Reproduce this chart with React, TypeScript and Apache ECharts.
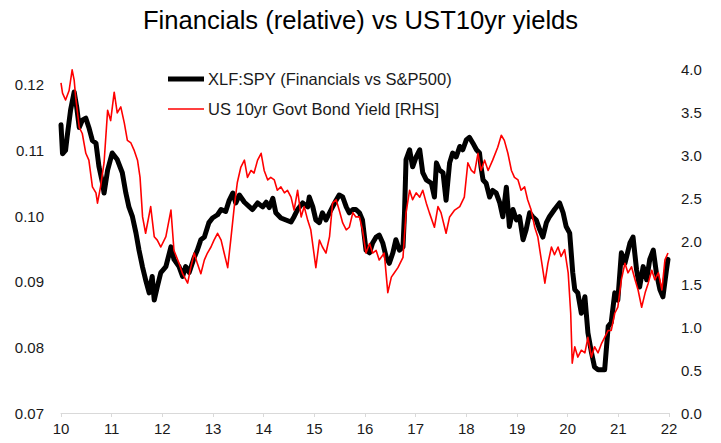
import React, { useEffect, useRef } from "react";
import * as echarts from "echarts";

const TITLE = "Financials (relative) vs UST10yr yields";
const LEGEND_XLF = "XLF:SPY (Financials vs S&P500)";
const LEGEND_UST = "US 10yr Govt Bond Yield [RHS]";

const X_MIN = 10;
const X_MAX = 22;
const LEFT_MIN = 0.07;
const LEFT_MAX = 0.1224;
const RIGHT_MIN = 0;
const RIGHT_MAX = 4;

// [year (20xx), XLF:SPY ratio]
const xlfSpy: [number, number][] = [
  [10.0, 0.1139], [10.03, 0.1095], [10.09, 0.11], [10.12, 0.112], [10.19, 0.1162], [10.26, 0.1189],
  [10.31, 0.1166], [10.36, 0.1135], [10.42, 0.1146], [10.49, 0.1149], [10.55, 0.1135], [10.62, 0.1115],
  [10.69, 0.1111], [10.75, 0.1075], [10.82, 0.105], [10.85, 0.1035], [10.92, 0.107], [11.01, 0.1096],
  [11.11, 0.1086], [11.21, 0.1066], [11.28, 0.1035], [11.34, 0.1014], [11.41, 0.0999], [11.48, 0.0974],
  [11.54, 0.0948], [11.61, 0.0922], [11.67, 0.0903], [11.74, 0.0883], [11.8, 0.0908], [11.84, 0.0872],
  [11.9, 0.0892], [11.97, 0.0914], [12.07, 0.0923], [12.17, 0.0953], [12.23, 0.0934], [12.33, 0.0923],
  [12.4, 0.0908], [12.46, 0.0923], [12.53, 0.0914], [12.63, 0.0937], [12.69, 0.0948], [12.76, 0.0964],
  [12.83, 0.0968], [12.92, 0.099], [12.99, 0.0997], [13.09, 0.1002], [13.16, 0.101], [13.25, 0.1007],
  [13.32, 0.1024], [13.39, 0.1035], [13.45, 0.102], [13.52, 0.1032], [13.62, 0.1021], [13.72, 0.1014],
  [13.78, 0.101], [13.88, 0.102], [13.98, 0.1014], [14.05, 0.1021], [14.11, 0.1013], [14.18, 0.1027],
  [14.24, 0.1005], [14.34, 0.0997], [14.44, 0.0994], [14.54, 0.0991], [14.6, 0.0999], [14.67, 0.101],
  [14.77, 0.102], [14.87, 0.1014], [14.9, 0.1029], [14.97, 0.1014], [15.03, 0.0994], [15.1, 0.099],
  [15.16, 0.1005], [15.23, 0.0994], [15.3, 0.1005], [15.36, 0.1014], [15.43, 0.1024], [15.49, 0.1032],
  [15.56, 0.1029], [15.63, 0.1014], [15.69, 0.1005], [15.76, 0.101], [15.82, 0.101], [15.89, 0.1005],
  [15.95, 0.0994], [16.02, 0.0948], [16.09, 0.0944], [16.15, 0.0959], [16.22, 0.0968], [16.28, 0.0971],
  [16.35, 0.0959], [16.42, 0.0937], [16.48, 0.0928], [16.55, 0.0944], [16.61, 0.0964], [16.68, 0.0948],
  [16.75, 0.0953], [16.78, 0.1005], [16.81, 0.1086], [16.88, 0.1101], [16.94, 0.1075], [17.01, 0.109],
  [17.08, 0.1101], [17.14, 0.1066], [17.21, 0.1055], [17.31, 0.105], [17.37, 0.1029], [17.41, 0.1081],
  [17.47, 0.107], [17.54, 0.1066], [17.6, 0.1024], [17.67, 0.1081], [17.73, 0.1096], [17.8, 0.109],
  [17.87, 0.1106], [17.93, 0.1101], [18.0, 0.1116], [18.06, 0.112], [18.13, 0.1111], [18.2, 0.1101],
  [18.26, 0.1096], [18.29, 0.1075], [18.33, 0.1055], [18.39, 0.105], [18.46, 0.1029], [18.52, 0.1039],
  [18.59, 0.1035], [18.66, 0.102], [18.72, 0.0999], [18.79, 0.1044], [18.85, 0.0984], [18.92, 0.101],
  [18.99, 0.0994], [19.05, 0.0999], [19.12, 0.0964], [19.18, 0.0979], [19.25, 0.1005], [19.31, 0.0999],
  [19.38, 0.0994], [19.45, 0.0979], [19.51, 0.0968], [19.58, 0.099], [19.64, 0.0999], [19.74, 0.101],
  [19.84, 0.102], [19.91, 0.1005], [19.97, 0.0984], [20.04, 0.0974], [20.1, 0.0914], [20.14, 0.0888],
  [20.2, 0.0883], [20.27, 0.0852], [20.34, 0.0877], [20.4, 0.0822], [20.47, 0.0792], [20.53, 0.077],
  [20.6, 0.0766], [20.67, 0.0766], [20.73, 0.0766], [20.8, 0.0832], [20.86, 0.0838], [20.93, 0.0883],
  [20.99, 0.0872], [21.06, 0.0944], [21.13, 0.0928], [21.23, 0.0959], [21.29, 0.0968], [21.36, 0.0918],
  [21.42, 0.0892], [21.49, 0.0923], [21.56, 0.0903], [21.62, 0.0934], [21.69, 0.0948], [21.75, 0.0914],
  [21.82, 0.0888], [21.88, 0.0877], [21.95, 0.0918], [21.98, 0.0934],
];

// [year (20xx), US 10yr yield %]
const ust10y: [number, number][] = [
  [10.0, 3.84], [10.03, 3.72], [10.09, 3.64], [10.16, 3.75], [10.22, 3.99], [10.26, 3.87], [10.29, 3.67],
  [10.36, 3.32], [10.42, 3.25], [10.49, 3.02], [10.55, 2.94], [10.62, 2.63], [10.69, 2.56], [10.72, 2.44],
  [10.78, 2.63], [10.85, 2.91], [10.92, 3.52], [10.98, 3.4], [11.05, 3.73], [11.11, 3.49], [11.18, 3.56],
  [11.25, 3.37], [11.31, 3.17], [11.38, 3.14], [11.44, 3.06], [11.51, 2.94], [11.56, 2.74], [11.61, 2.28],
  [11.67, 2.09], [11.77, 2.4], [11.84, 2.05], [11.9, 2.01], [11.97, 1.93], [12.07, 2.05], [12.17, 2.36],
  [12.23, 1.89], [12.33, 1.74], [12.4, 1.62], [12.5, 1.51], [12.56, 1.69], [12.63, 1.86], [12.69, 1.74],
  [12.76, 1.62], [12.83, 1.78], [12.89, 1.86], [12.96, 1.93], [13.02, 2.01], [13.09, 2.09], [13.16, 2.01],
  [13.22, 1.86], [13.29, 1.69], [13.35, 2.01], [13.42, 2.4], [13.48, 2.68], [13.55, 2.86], [13.62, 2.94],
  [13.68, 2.74], [13.75, 2.82], [13.81, 2.79], [13.88, 2.94], [13.95, 3.02], [14.01, 2.82], [14.08, 2.71],
  [14.14, 2.74], [14.21, 2.71], [14.27, 2.59], [14.34, 2.63], [14.41, 2.56], [14.47, 2.59], [14.54, 2.51],
  [14.6, 2.36], [14.67, 2.59], [14.74, 2.28], [14.8, 2.4], [14.87, 2.24], [14.93, 2.13], [15.03, 1.69],
  [15.1, 2.01], [15.16, 1.93], [15.23, 1.86], [15.3, 2.05], [15.36, 2.44], [15.43, 2.48], [15.49, 2.36],
  [15.56, 2.21], [15.63, 2.13], [15.69, 2.16], [15.76, 2.33], [15.82, 2.28], [15.89, 2.28], [15.95, 2.13],
  [16.02, 1.86], [16.09, 1.97], [16.15, 1.86], [16.22, 1.89], [16.28, 1.78], [16.38, 1.86], [16.45, 1.4],
  [16.52, 1.58], [16.58, 1.63], [16.65, 1.69], [16.75, 1.81], [16.81, 2.33], [16.88, 2.59], [16.94, 2.48],
  [17.01, 2.56], [17.08, 2.51], [17.14, 2.59], [17.21, 2.44], [17.27, 2.33], [17.37, 2.16], [17.44, 2.4],
  [17.5, 2.33], [17.6, 2.09], [17.67, 2.28], [17.77, 2.36], [17.87, 2.4], [17.96, 2.51], [18.03, 2.91],
  [18.1, 2.82], [18.16, 2.79], [18.23, 3.02], [18.29, 2.82], [18.36, 2.94], [18.43, 2.82], [18.52, 2.94],
  [18.62, 3.09], [18.69, 3.23], [18.75, 3.17], [18.82, 3.02], [18.89, 2.82], [18.95, 2.74], [19.02, 2.71],
  [19.08, 2.59], [19.15, 2.63], [19.21, 2.48], [19.28, 2.36], [19.35, 2.16], [19.41, 2.05], [19.48, 1.78],
  [19.55, 1.51], [19.61, 1.74], [19.68, 1.93], [19.74, 1.84], [19.81, 1.93], [19.87, 1.82], [19.94, 1.9],
  [20.01, 1.63], [20.06, 1.16], [20.09, 0.58], [20.14, 0.77], [20.2, 0.65], [20.27, 0.73], [20.34, 0.7],
  [20.4, 0.88], [20.47, 0.65], [20.53, 0.77], [20.6, 0.7], [20.67, 0.81], [20.73, 0.88], [20.8, 0.96],
  [20.86, 0.96], [20.93, 1.16], [20.99, 1.23], [21.06, 1.55], [21.13, 1.74], [21.19, 1.63], [21.26, 1.7],
  [21.33, 1.55], [21.39, 1.43], [21.46, 1.23], [21.53, 1.4], [21.59, 1.51], [21.66, 1.66], [21.72, 1.55],
  [21.79, 1.63], [21.86, 1.43], [21.92, 1.78], [21.98, 1.86],
];

const FONT = "'Liberation Sans', Arial, sans-serif";
const TEXT_COLOR = "#1a1a1a";

export default function App() {
  const ref = useRef<HTMLDivElement>(null);

  useEffect(() => {
    if (!ref.current) return;
    const chart = echarts.init(ref.current, undefined, { renderer: "svg" });
    chart.setOption({
      animation: false,
      backgroundColor: "#ffffff",
      textStyle: { fontFamily: FONT },
      title: {
        text: TITLE,
        left: "center",
        top: 2,
        textStyle: { fontSize: 25.6, fontWeight: "normal", color: "#000", fontFamily: FONT },
      },
      grid: { left: 61, right: 52, top: 69, bottom: 30, containLabel: false },
      xAxis: {
        type: "value",
        min: X_MIN,
        max: X_MAX,
        interval: 1,
        axisLine: { show: true, lineStyle: { color: "#d9d9d9", width: 1 } },
        axisTick: { show: true, length: 4, lineStyle: { color: "#d9d9d9" } },
        splitLine: { show: false },
        axisLabel: {
          margin: 8,
          fontSize: 15,
          color: TEXT_COLOR,
          fontFamily: FONT,
          formatter: (v: number) => String(Math.round(v)),
        },
      },
      yAxis: [
        {
          type: "value",
          min: LEFT_MIN,
          max: LEFT_MAX,
          interval: 0.01,
          axisLine: { show: false },
          axisTick: { show: false },
          splitLine: { show: false },
          axisLabel: {
            margin: 17,
            fontSize: 15,
            color: TEXT_COLOR,
            fontFamily: FONT,
            showMaxLabel: false,
            formatter: (v: number) => v.toFixed(2),
          },
        },
        {
          type: "value",
          min: RIGHT_MIN,
          max: RIGHT_MAX,
          interval: 0.5,
          position: "right",
          axisLine: { show: false },
          axisTick: { show: false },
          splitLine: { show: false },
          axisLabel: {
            margin: 12,
            fontSize: 15,
            color: TEXT_COLOR,
            fontFamily: FONT,
            formatter: (v: number) => v.toFixed(1),
          },
        },
      ],
      series: [
        {
          name: LEGEND_XLF,
          type: "line",
          yAxisIndex: 0,
          data: xlfSpy,
          symbol: "none",
          lineStyle: { color: "#000000", width: 5, join: "round", cap: "round" },
          z: 2,
        },
        {
          name: LEGEND_UST,
          type: "line",
          yAxisIndex: 1,
          data: ust10y,
          symbol: "none",
          lineStyle: { color: "#ff0000", width: 1.6, join: "round" },
          z: 3,
        },
      ],
      graphic: [
        {
          type: "line",
          shape: { x1: 168, y1: 79, x2: 204, y2: 79 },
          style: { stroke: "#000000", lineWidth: 5 },
        },
        {
          type: "text",
          x: 208,
          y: 79,
          style: {
            text: LEGEND_XLF,
            fontSize: 16.5,
            fontFamily: FONT,
            fill: TEXT_COLOR,
            verticalAlign: "middle",
            align: "left",
          },
        },
        {
          type: "line",
          shape: { x1: 168, y1: 109, x2: 204, y2: 109 },
          style: { stroke: "#ff0000", lineWidth: 1.6 },
        },
        {
          type: "text",
          x: 208,
          y: 109,
          style: {
            text: LEGEND_UST,
            fontSize: 16.5,
            fontFamily: FONT,
            fill: TEXT_COLOR,
            verticalAlign: "middle",
            align: "left",
          },
        },
      ],
    });
    return () => chart.dispose();
  }, []);

  return (
    <div
      ref={ref}
      style={{ position: "absolute", left: 0, top: 0, width: 721, height: 443, background: "#fff" }}
    />
  );
}
